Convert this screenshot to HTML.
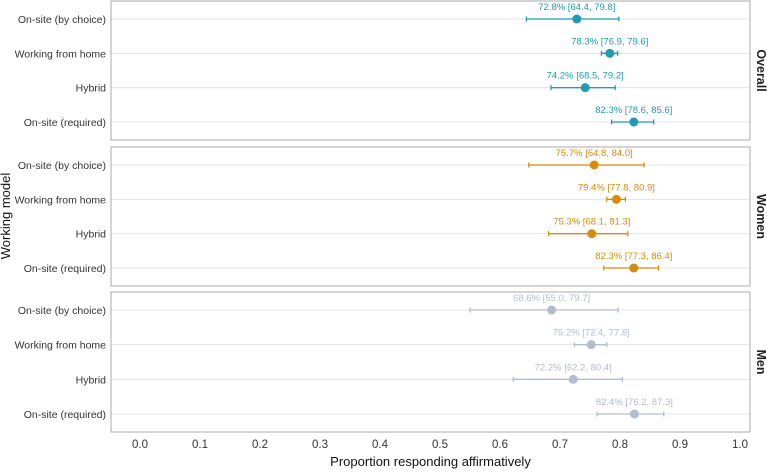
<!DOCTYPE html>
<html><head><meta charset="utf-8"><style>
body{margin:0;background:#fff;font-family:"Liberation Sans",Arial,sans-serif}
svg text{font-family:"Liberation Sans",Arial,sans-serif}
</style></head><body>
<svg id="c" width="767" height="469"></svg>
<script>
const categories=["On-site (by choice)","Working from home","Hybrid","On-site (required)"];
const groups=["Overall","Women","Men"];
const colors=["#1f9bb3","#d88a0e","#b3bccc"];
const est=[[0.728,0.783,0.742,0.823],[0.757,0.794,0.753,0.823],[0.686,0.752,0.722,0.824]];
const lo=[[0.644,0.769,0.685,0.786],[0.648,0.778,0.681,0.773],[0.550,0.724,0.622,0.762]];
const hi=[[0.798,0.796,0.792,0.856],[0.840,0.809,0.813,0.864],[0.797,0.778,0.804,0.873]];
const ticks=[0,0.1,0.2,0.3,0.4,0.5,0.6,0.7,0.8,0.9,1.0];
const NS="http://www.w3.org/2000/svg";
const svg=document.getElementById('c');
function mk(t,a,p){const e=document.createElementNS(NS,t);for(const k in a)e.setAttribute(k,a[k]);(p||svg).appendChild(e);return e;}
const L=111,R=750;
const x=v=>140+v*600;
const panels=[[1,140],[147,286],[292,432]];
const yRow=(p,i)=>panels[p][0]+18+i*(panels[p][1]-panels[p][0]-36)/3;
groups.forEach((g,p)=>{
  const [t,b]=panels[p];
  const gp=mk('g',{});
  
  
  categories.forEach((c,i)=>{
    const y=yRow(p,i);
    mk('line',{x1:L,x2:R,y1:y,y2:y,stroke:'#e3e3e3','stroke-width':1},gp);
    const lab=mk('text',{x:L-5,y:y+4,'text-anchor':'end','font-size':10.5,fill:'#333'},gp);
    lab.textContent=c;
    
    
    const col=colors[p];
    const ci=mk('g',{},gp);
    
    
    mk('line',{x1:x(lo[p][i]),x2:x(hi[p][i]),y1:y,y2:y,stroke:col,'stroke-width':1.3},ci);
    mk('line',{x1:x(lo[p][i]),x2:x(lo[p][i]),y1:y-2.5,y2:y+2.5,stroke:col,'stroke-width':1.3},ci);
    mk('line',{x1:x(hi[p][i]),x2:x(hi[p][i]),y1:y-2.5,y2:y+2.5,stroke:col,'stroke-width':1.3},ci);
    const pt=mk('circle',{cx:x(est[p][i]),cy:y,r:4.5,fill:col},gp);
    
    
    const vt=mk('text',{x:x(est[p][i]),y:y-9,'text-anchor':'middle','font-size':9.5,fill:col},gp);
    vt.textContent=(est[p][i]*100).toFixed(1)+'% ['+(lo[p][i]*100).toFixed(1)+', '+(hi[p][i]*100).toFixed(1)+']';
    
    
  });
  mk('rect',{x:L,y:t,width:R-L,height:b-t,fill:'none',stroke:'#aaa','stroke-width':1},gp);
  const st=mk('text',{x:0,y:0,'font-size':12.5,'font-weight':'bold',fill:'#222','text-anchor':'middle',transform:`translate(757,${(t+b)/2}) rotate(90)`},gp);
  st.textContent=g;
  
  
});
ticks.forEach(v=>{
  const tt=mk('text',{x:x(v),y:448,'text-anchor':'middle','font-size':11.5,fill:'#333'});
  tt.textContent=v.toFixed(1);
  
  
});
const xt=mk('text',{x:(L+R)/2,y:466,'text-anchor':'middle','font-size':13,fill:'#111'});
xt.textContent='Proportion responding affirmatively';


const yt=mk('text',{x:0,y:0,'text-anchor':'middle','font-size':13,fill:'#111',transform:'translate(10,216) rotate(-90)'});
yt.textContent='Working model';


</script>
</body></html>
